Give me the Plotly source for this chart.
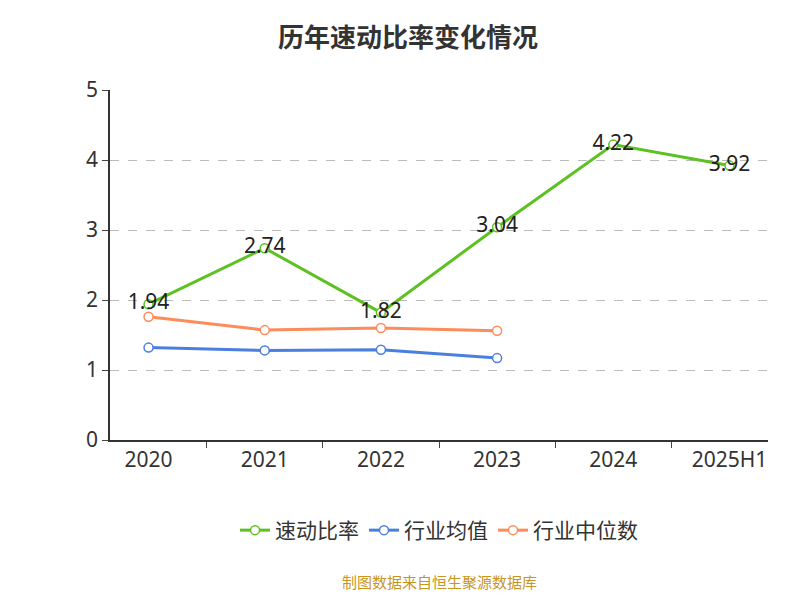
import plotly.graph_objects as go

cats = ["2020", "2021", "2022", "2023", "2024", "2025H1"]
quick = [1.94, 2.74, 1.82, 3.04, 4.22, 3.92]
avg = [1.32, 1.28, 1.29, 1.17]
med = [1.76, 1.57, 1.60, 1.56]

fig = go.Figure()
fig.add_trace(go.Scatter(x=cats, y=quick, name="速动比率", mode="lines+markers+text",
    text=[f"{v:.2f}" for v in quick], textposition="middle center",
    textfont=dict(size=21, color="#222", family="Noto Sans"),
    line=dict(color="#5cc121", width=3), marker=dict(size=9, color="white", line=dict(color="#5cc121", width=1.5))))
fig.add_trace(go.Scatter(x=cats[:4], y=avg, name="行业均值", mode="lines+markers",
    line=dict(color="#4a7fe0", width=3), marker=dict(size=9, color="white", line=dict(color="#4a7fe0", width=1.5))))
fig.add_trace(go.Scatter(x=cats[:4], y=med, name="行业中位数", mode="lines+markers",
    line=dict(color="#fc8c5a", width=3), marker=dict(size=9, color="white", line=dict(color="#fc8c5a", width=1.5))))

fig.update_layout(
    width=800, height=600, plot_bgcolor="white", paper_bgcolor="white",
    font=dict(family="Noto Sans CJK SC", color="#333"),
    title=dict(text="<b>历年速动比率变化情况</b>", x=0.5, y=0.965, xanchor="center", font=dict(size=26, color="#333")),
    margin=dict(l=102, r=40, t=82, b=168),
    showlegend=True,
    legend=dict(orientation="h", x=0.5, xanchor="center", y=-0.2, yanchor="top", font=dict(size=21)),
    xaxis=dict(type="category", showline=True, linecolor="#333", linewidth=1.5, ticks="outside",
               tickson="boundaries", ticklen=6, tickfont=dict(size=21, family="Noto Sans"), showgrid=False),
    yaxis=dict(range=[0, 5], dtick=1, showline=True, linecolor="#333", linewidth=1.5, ticks="outside",
               ticklen=6, tickfont=dict(size=21, family="Noto Sans"), gridcolor="#bbb", griddash="dash", zeroline=False),
    annotations=[dict(text="制图数据来自恒生聚源数据库", x=0.5, y=-0.44, xref="paper", yref="paper",
                      showarrow=False, font=dict(size=15, color="#c8961e"))],
)
fig.write_html("out.html")
